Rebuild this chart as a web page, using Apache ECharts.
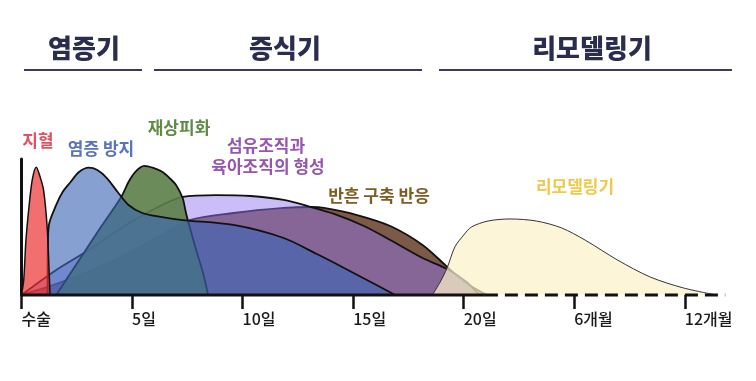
<!DOCTYPE html>
<html><head><meta charset="utf-8">
<script src="https://cdn.jsdelivr.net/npm/echarts@6/dist/echarts.min.js"></script>
<style>html,body{margin:0;padding:0;background:#fff}#c{width:756px;height:381px}</style>
</head><body><div id="c"></div>
<script>
// x unit: days (0 = 수술, 20 = 20일, 25 = 6개월, 30 = 12개월), y: relative intensity 0..100
const tickValues = [0, 5, 10, 15, 20, 25, 30];
const tickLabels = ['수술', '5일', '10일', '15일', '20일', '6개월', '12개월'];

const hemostasis = [[0,0],[0.1,11],[0.2,40],[0.34,65],[0.49,85],[0.67,94],[0.83,87.5],[1.0,77],[1.16,50],[1.24,21],[1.29,0]];
const inflammation = [[1.18,0],[1.19,33],[1.24,51.5],[1.57,66.2],[1.86,75.7],[2.22,83.1],[2.6,90.4],[3.04,93.6],[3.43,91.9],[3.86,86],[4.35,75.7],[4.84,66.2],[5.46,60.3],[6.23,57.6],[7.29,55.1],[9.59,51.5],[11.86,41.9],[13.36,30.1],[14.59,19.9],[15.71,10.3],[16.9,0]];
const epithelial = [[1.57,0],[2.55,24.3],[3.53,48.5],[4.51,72.1],[4.84,83.1],[5.14,90.4],[5.55,94.9],[5.96,93.4],[6.38,90.4],[6.74,85.3],[6.99,80.9],[7.29,71.3],[7.41,62.5],[7.52,55.1],[7.9,33.1],[8.21,16.2],[8.44,0]];
const granulation = [[0,0],[1.57,18.4],[3.04,33.1],[4.51,49.3],[5.92,62.5],[7.29,72.1],[8.81,73.5],[10.36,72.8],[11.86,69.9],[13.09,64.7],[14.14,59.6],[15.49,50.7],[16.68,40.4],[18.14,27.2],[19.25,19.1],[20.13,9.6],[20.7,0]];
const contraction = [[0,0],[2.06,11],[4.02,24.3],[5.92,40.4],[7.62,55.1],[9.59,60.3],[11.86,64],[13.09,64.7],[13.68,64],[15.18,58.8],[16.68,50.7],[18.14,36.8],[19.16,22.1],[20.04,9.6],[21.05,0]];
const remodeling = [[18.58,0],[18.94,9.6],[19.25,19.9],[19.6,35.3],[20,44.1],[20.35,50],[21.1,54.4],[22.1,55.9],[23.29,54.4],[24.43,49.3],[25.49,40.4],[26.96,25.7],[28.44,13.2],[29.96,5.1],[31.43,0]];
const baselineSolid = [[0,0],[20.96,0]];
const baselineDashed = [[20.96,0],[31.83,0]];

const KR = '"Noto Sans CJK KR", "Noto Sans", sans-serif';

function area(name, data, fill, z, lw, lc) {
  return {
    name, type: 'line', data, smooth: 0.3, symbol: 'none', z,
    lineStyle: { color: lc || '#111', width: lw || 1.8 },
    areaStyle: { color: fill, opacity: 1 },
    silent: true
  };
}

function txt(text, x, y, color, size, weight) {
  return { type: 'text', x, y, silent: true,
    style: { text, fill: color, font: (weight || 'bold') + ' ' + size + 'px ' + KR,
      align: 'center', verticalAlign: 'middle', textAlign: 'center', textVerticalAlign: 'middle' } };
}
function hline(x1, x2, y) {
  return { type: 'line', silent: true, shape: { x1, y1: y, x2, y2: y },
    style: { stroke: '#3b3b5c', lineWidth: 2 } };
}

const chart = echarts.init(document.getElementById('c'));
chart.setOption({
  animation: false,
  backgroundColor: '#fff',
  grid: { left: 21.5, right: 27, top: 159, bottom: 86 },
  xAxis: {
    type: 'value', min: 0, max: 32,
    axisLine: { show: false },
    splitLine: { show: false },
    axisTick: { show: true, customValues: tickValues, length: 14, lineStyle: { color: '#111', width: 2.5 } },
    axisLabel: { customValues: tickValues, formatter: v => tickLabels[tickValues.indexOf(v)],
      align: 'left', margin: 16, color: '#1a1a1a', fontSize: 16, fontWeight: 500, fontFamily: KR }
  },
  yAxis: {
    type: 'value', min: 0, max: 100,
    axisLine: { show: true, onZero: true, lineStyle: { color: '#111', width: 3 } },
    axisTick: { show: false }, axisLabel: { show: false }, splitLine: { show: false }
  },
  series: [
    area('반흔 구축 반응', contraction, '#7d5a48', 1),
    area('섬유조직과 육아조직의 형성', granulation, 'rgba(145,115,240,0.47)', 2),
    area('재상피화', epithelial, 'rgba(91,127,72,0.9)', 3),
    area('염증 방지', inflammation, 'rgba(60,103,180,0.62)', 4),
    area('지혈', hemostasis, 'rgba(235,50,50,0.7)', 5, 1.5),
    area('리모델링기', remodeling, 'rgba(251,241,201,0.72)', 6, 1, '#333'),
    { type: 'line', data: baselineSolid, symbol: 'none', z: 10, clip: false, silent: true,
      lineStyle: { color: '#111', width: 3 } },
    { type: 'line', data: baselineDashed, symbol: 'none', z: 10, clip: false, silent: true,
      lineStyle: { color: '#111', width: 3, type: [13, 7] } }
  ],
  graphic: [
    txt('염증기', 84, 48, '#2b2d50', 26, '900'),
    txt('증식기', 285, 48, '#2b2d50', 26, '900'),
    txt('리모델링기', 592, 48, '#2b2d50', 26, '900'),
    hline(24, 142, 70), hline(154, 422, 70), hline(439, 732, 70),
    txt('지혈', 38, 141, '#e35262', 17),
    txt('염증 방지', 101, 149, '#5b73b8', 17),
    txt('재상피화', 179, 128, '#5e8a44', 17),
    txt('섬유조직과', 266, 146, '#9656b0', 17),
    txt('육아조직의 형성', 268, 167, '#9656b0', 17),
    txt('반흔 구축 반응', 379, 196, '#7d5e22', 17),
    txt('리모델링기', 575, 187, '#f0c84a', 17)
  ]
});
</script>
</body></html>
